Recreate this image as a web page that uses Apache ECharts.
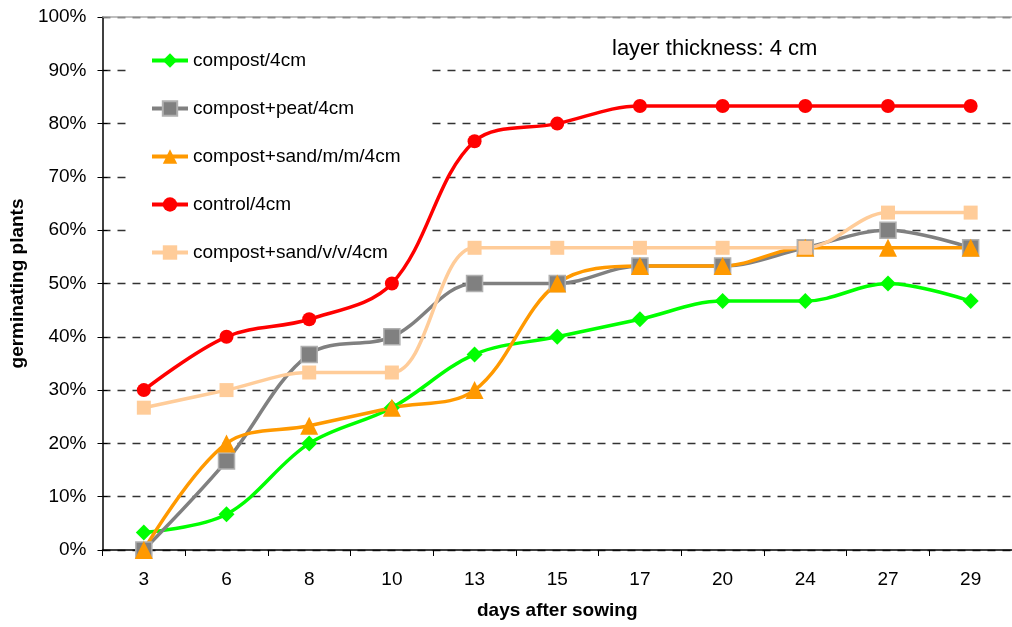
<!DOCTYPE html>
<html>
<head>
<meta charset="utf-8">
<script src="https://cdn.jsdelivr.net/npm/echarts@6/dist/echarts.min.js"></script>
<style>
  html, body { margin: 0; padding: 0; background: #fff; }
  #chart { width: 1012px; height: 627px; }
</style>
</head>
<body>
<div id="chart"></div>
<script>
// Days after sowing (category axis)
const days = ['3', '6', '8', '10', '13', '15', '17', '20', '24', '27', '29'];

// Germinating plants, percent
const compost      = [3.3, 6.7, 20.0, 26.7, 36.7, 40.0, 43.3, 46.7, 46.7, 50.0, 46.7];
const compostPeat  = [0.0, 16.7, 36.7, 40.0, 50.0, 50.0, 53.3, 53.3, 56.7, 60.0, 56.7];
const compostSandM = [0.0, 20.0, 23.3, 26.7, 30.0, 50.0, 53.3, 53.3, 56.7, 56.7, 56.7];
const control      = [30.0, 40.0, 43.3, 50.0, 76.7, 80.0, 83.3, 83.3, 83.3, 83.3, 83.3];
const compostSandV = [26.7, 30.0, 33.3, 33.3, 56.7, 56.7, 56.7, 56.7, 56.7, 63.3, 63.3];

const yTicks = { min: 0, max: 100, interval: 10 };

const font = 'Liberation Sans, Arial, sans-serif';

function line(name, data, color, symbol, size, extra) {
  return Object.assign({
    name: name,
    type: 'line',
    data: data,
    smooth: 0.35,
    symbol: symbol,
    symbolSize: size,
    z: 3,
    lineStyle: { color: color, width: 3.5 },
    itemStyle: { color: color },
    emphasis: { disabled: true }
  }, extra || {});
}

const chart = echarts.init(document.getElementById('chart'), null, { renderer: 'canvas' });

chart.setOption({
  animation: false,
  backgroundColor: '#fff',
  grid: { left: 102, right: -10, top: 17, bottom: 77, containLabel: false },
  title: {
    text: 'layer thickness: 4 cm',
    left: 607, top: 33,
    textStyle: { fontFamily: font, fontSize: 22, fontWeight: 'normal', color: '#000' }
  },
  legend: {
    orient: 'vertical',
    left: 128, top: 39,
    z: 1,
    backgroundColor: '#fff',
    padding: [12, 28, 12, 22],
    itemWidth: 36, itemHeight: 18,
    itemGap: 29,
    lineStyle: { width: 4 },
    textStyle: { fontFamily: font, fontSize: 19, color: '#000' },
    data: ['compost/4cm', 'compost+peat/4cm', 'compost+sand/m/m/4cm', 'control/4cm', 'compost+sand/v/v/4cm']
  },
  xAxis: {
    type: 'category',
    data: days,
    boundaryGap: true,
    name: 'days after sowing',
    nameLocation: 'middle',
    nameGap: 51,
    nameTextStyle: { fontFamily: font, fontSize: 19, fontWeight: 'bold', color: '#000' },
    axisLine: { lineStyle: { color: '#000', width: 1.5 } },
    axisTick: { show: true, length: 6, lineStyle: { color: '#000', width: 1 } },
    axisLabel: { fontFamily: font, fontSize: 19, color: '#000', margin: 20 },
    splitLine: { show: false }
  },
  yAxis: [
    {
      type: 'value',
      min: yTicks.min, max: yTicks.max, interval: yTicks.interval,
      name: 'germinating plants',
      nameLocation: 'middle',
      nameGap: 74,
      nameTextStyle: { fontFamily: font, fontSize: 19, fontWeight: 'bold', color: '#000' },
      axisLine: { show: true, lineStyle: { color: '#000', width: 1.5 } },
      axisTick: { show: true, length: 5, lineStyle: { color: '#000', width: 1 } },
      axisLabel: { fontFamily: font, fontSize: 19, color: '#000', margin: 16, formatter: '{value}%' },
      splitLine: { show: true, lineStyle: { color: '#333', width: 1.3, type: [8, 7] } }
    },
    {
      // inner half of the crossing ticks on the value axis
      type: 'value',
      position: 'left',
      min: yTicks.min, max: yTicks.max, interval: yTicks.interval,
      axisLine: { show: false },
      axisTick: { show: true, inside: true, length: 5, lineStyle: { color: '#000', width: 1 } },
      axisLabel: { show: false },
      splitLine: { show: false }
    }
  ],
  series: [
    line('compost/4cm', compost, '#00FF00', 'diamond', 16, {
      // light frame line along the top of the plot area
      markLine: {
        silent: true,
        symbol: 'none',
        label: { show: false },
        lineStyle: { color: '#A8A8A8', type: 'solid', width: 1.5 },
        data: [{ yAxis: yTicks.max }]
      }
    }),
    line('compost+peat/4cm', compostPeat, '#808080', 'rect', 16,
      { itemStyle: { color: '#808080', borderColor: '#B0B0B0', borderWidth: 1.5 } }),
    line('compost+sand/m/m/4cm', compostSandM, '#FF9900', 'triangle', 18),
    line('control/4cm', control, '#FF0000', 'circle', 14),
    line('compost+sand/v/v/4cm', compostSandV, '#FFCC99', 'rect', 14)
  ]
});
</script>
</body>
</html>
